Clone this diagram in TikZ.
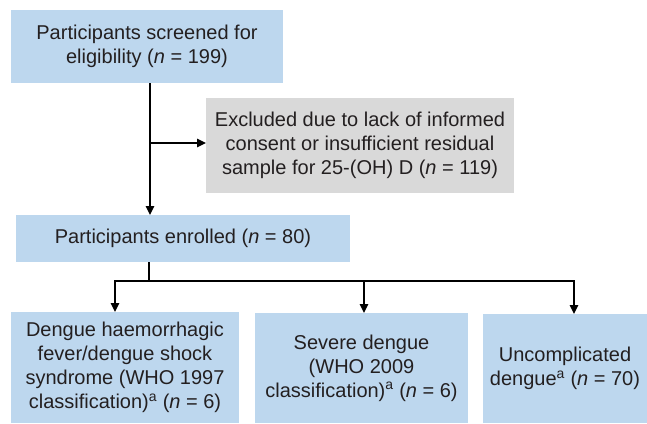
\documentclass[tikz,border=0pt]{standalone}
\usepackage{fontspec}
\setmainfont{Liberation Sans}
\usetikzlibrary{arrows.meta,calc}
\definecolor{boxblue}{HTML}{BDD7EE}
\definecolor{boxgray}{HTML}{D9D9D9}
\definecolor{txt}{HTML}{231F20}
\begin{document}
\begin{tikzpicture}[x=1pt,y=-1pt,
  box/.style={fill=boxblue,draw=none,inner sep=0pt,outer sep=0pt,align=center,text=txt,
    font=\fontsize{20}{24}\selectfont},
  graybox/.style={box,fill=boxgray},
  conn/.style={line width=1.3pt,black},
  arr/.style={conn,-{Triangle[length=9pt,width=8.5pt]}}]
\useasboundingbox (0,0) rectangle (647,423);
\node[box,minimum width=272pt,minimum height=73pt] (scr) at (147,46.5)
  {Participants screened for\\eligibility (\textit{n} = 199)};
\node[graybox,minimum width=308pt,minimum height=95pt] (exc) at (360,145.5)
  {Excluded due to lack of informed\\consent or insufficient residual\\sample for 25-(OH) D (\textit{n} = 119)};
\node[box,minimum width=334pt,minimum height=47pt] (enr) at (183,238.5)
  {Participants enrolled (\textit{n} = 80)};
\node[box,minimum width=228pt,minimum height=111pt] (dhf) at (125,367.5)
  {Dengue haemorrhagic\\fever/dengue shock\\syndrome (WHO 1997\\classification)\textsuperscript{a} (\textit{n} = 6)};
\node[box,minimum width=213pt,minimum height=110pt] (sev) at (361.5,368)
  {Severe dengue\\(WHO 2009\\classification)\textsuperscript{a} (\textit{n} = 6)};
\node[box,minimum width=164pt,minimum height=109pt] (unc) at (565,368.5)
  {Uncomplicated\\dengue\textsuperscript{a} (\textit{n} = 70)};
\coordinate (trunk) at (150,83);
\coordinate (excj) at (150,143);
\coordinate (bj) at (149,281);
\draw[arr] (trunk) -- (trunk |- enr.north);
\draw[arr] (excj) -- (excj -| exc.west);
\draw[conn] (bj |- enr.south) -- (bj);
\draw[arr] (bj) -| ([xshift=-10pt]dhf.north);
\draw[arr] ([xshift=2.5pt]sev.north |- bj) -- ([xshift=2.5pt]sev.north);
\draw[arr] (bj) -| ([xshift=9pt]unc.north);
\end{tikzpicture}
\end{document}
